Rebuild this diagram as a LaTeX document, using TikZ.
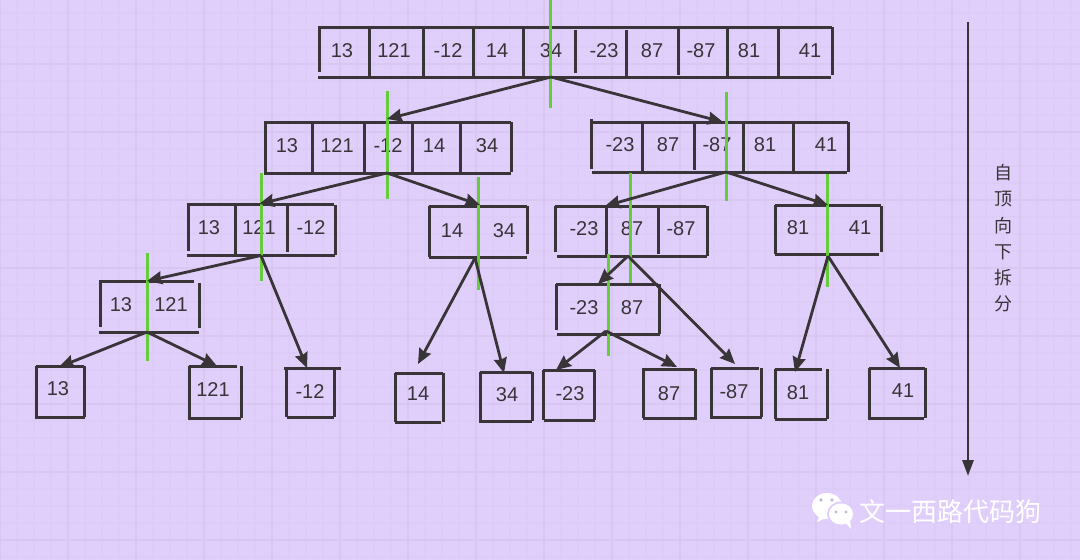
\documentclass[tikz,border=0pt]{standalone}
\usepackage{fontspec}
\setmainfont{Liberation Sans}
\newfontfamily\cjkf{Noto Sans CJK SC}
\usetikzlibrary{arrows.meta}
\definecolor{bgc}{HTML}{E1CFFB}
\definecolor{gridminor}{HTML}{DECCF8}
\definecolor{gridmajor}{HTML}{D9C7F2}
\definecolor{ink}{HTML}{383438}
\definecolor{cut}{HTML}{66CC3C}
\tikzset{
  rail/.style={draw=ink,line width=3pt},
  link/.style={draw=ink,line width=2.8pt,-{Stealth[length=15pt,width=13pt,inset=1.5pt]}},
  cutline/.style={draw=cut,line width=3pt},
  num/.style={text=ink,font=\fontsize{20}{20}\selectfont,inner sep=0pt},
  han/.style={text=ink,font=\cjkf\fontsize{18}{18}\selectfont,inner sep=0pt},
  wmark/.style={text=white,font=\cjkf\fontsize{26}{26}\selectfont,inner sep=0pt}
}
\begin{document}
\begin{tikzpicture}[x=1pt,y=-1pt]
\useasboundingbox (0,0) rectangle (1080,560);
\fill[bgc] (0,0) rectangle (1080,560);
\foreach \gx in {0,17,...,1080} \draw[gridminor,line width=1.4pt] (\gx,0) -- (\gx,560);
\foreach \gy in {13,30,...,560} \draw[gridminor,line width=1.4pt] (0,\gy) -- (1080,\gy);
\foreach \gx in {0,68,...,1080} \draw[gridmajor,line width=1.6pt] (\gx,0) -- (\gx,560);
\foreach \gy in {64,132,...,560} \draw[gridmajor,line width=1.6pt] (0,\gy) -- (1080,\gy);

% level 0
\draw[rail] (318,27) -- (832,27);
\draw[rail] (318,77) -- (831,77);
\foreach \vx/\va/\vb in {319/27/72,369/28/77,423/28/77,473/28/77,523/28/77,575/30/73,626/30/77,678/28/75,727/28/77,778/28/77,832/27/75}
  \draw[rail] (\vx,\va) -- (\vx,\vb);
\foreach \nm/\tx/\lb in {a0/342/13,a1/394/121,a2/448/-12,a3/497/14,a4/551/34,a5/604/-23,a6/652/87,a7/701/-87,a8/749/81,a9/810/41}
  \node[num] (\nm) at (\tx,51) {\lb};

% level 1
\draw[rail] (264,122) -- (511,122);
\draw[rail] (264,173) -- (511,173);
\foreach \vx/\va/\vb in {265/122/172,312/122/175,364/122/173,412/122/173,460/122/173,511/122/172}
  \draw[rail] (\vx,\va) -- (\vx,\vb);
\foreach \nm/\tx/\lb in {b0/287/13,b1/337/121,b2/388/-12,b3/434/14,b4/487/34}
  \node[num] (\nm) at (\tx,146) {\lb};
\draw[rail] (591,122) -- (848,122);
\draw[rail] (592,172) -- (847,172);
\foreach \vx/\va/\vb in {591/119/169,642/121/172,694/122/170,743/122/172,793/122/172,848/122/172}
  \draw[rail] (\vx,\va) -- (\vx,\vb);
\foreach \nm/\tx/\lb in {c0/620/-23,c1/668/87,c2/717/-87,c3/765/81,c4/826/41}
  \node[num] (\nm) at (\tx,145) {\lb};

% level 2
\draw[rail] (187,204) -- (334,204);
\draw[rail] (187,255) -- (335,255);
\foreach \vx/\va/\vb in {188/204/251,235/204/255,287/204/252,335/205/255}
  \draw[rail] (\vx,\va) -- (\vx,\vb);
\foreach \nm/\tx/\lb in {d0/209/13,d1/259/121,d2/311/-12}
  \node[num] (\nm) at (\tx,228) {\lb};
\draw[rail] (429,206) -- (527,206);
\draw[rail] (429,257) -- (527,257);
\foreach \vx/\va/\vb in {429/206/257,527/206/254}
  \draw[rail] (\vx,\va) -- (\vx,\vb);
\foreach \nm/\tx/\lb in {e0/452/14,e1/504/231}
  \node[num] (\nm) at (\tx,231) {\ifnum\lb=231 34\else\lb\fi};
\draw[rail] (555,206) -- (706,206);
\draw[rail] (557,256) -- (707,256);
\foreach \vx/\va/\vb in {555/206/252,606/206/256,658/206/254,707/206/256}
  \draw[rail] (\vx,\va) -- (\vx,\vb);
\foreach \nm/\tx/\lb in {f0/584/-23,f1/632/87,f2/681/-87}
  \node[num] (\nm) at (\tx,229) {\lb};
\draw[rail] (775,205) -- (881,205);
\draw[rail] (775,254) -- (879,254);
\foreach \vx/\va/\vb in {775/205/254,881/206/252}
  \draw[rail] (\vx,\va) -- (\vx,\vb);
\foreach \nm/\tx/\lb in {g0/798/81,g1/860/41}
  \node[num] (\nm) at (\tx,228) {\lb};

% level 3
\draw[rail] (99,281) -- (194,281);
\draw[rail] (99,332) -- (199,332);
\foreach \vx/\va/\vb in {100/281/327,199/283/328}
  \draw[rail] (\vx,\va) -- (\vx,\vb);
\foreach \nm/\tx/\lb in {h0/121/13,h1/171/121}
  \node[num] (\nm) at (\tx,305) {\lb};
\draw[rail] (556,284) -- (658,284);
\draw[rail] (557,334) -- (660,334);
\foreach \vx/\va/\vb in {556/284/330,659/284/334}
  \draw[rail] (\vx,\va) -- (\vx,\vb);
\foreach \nm/\tx/\lb in {i0/584/-23,i1/632/87}
  \node[num] (\nm) at (\tx,308) {\lb};

% level 4: left x / right x / top / bottom of each side, as drawn
\foreach \lx/\rx/\ty/\by/\nm/\tx/\tyy/\lb/\tl/\bl/\tr/\br in {
  36/84/366/417/j0/58/389/13/36/35/84/85,
  189/241/366/418/j1/213/390/121/189/188/237/241,
  286/334/368/417/j2/310/392/-12/284/287/341/334,
  395/443/373/422/j3/418/394/14/395/395/443/441,
  480/532/372/421/j4/507/395/34/480/479/532/532,
  543/594/370/420/j5/570/394/-23/543/544/595/595,
  643/695/369/418/j6/669/394/87/642/643/695/697,
  711/761/368/417/j7/734/392/-87/711/710/759/762,
  775/827/369/419/j8/798/393/81/775/775/822/827,
  869/925/368/418/j9/903/391/41/869/868/925/924}{
  \draw[rail] (\tl,\ty) -- (\tr,\ty);
  \draw[rail] (\bl,\by) -- (\br,\by);
  \draw[rail] (\lx,\ty) -- (\lx,\by);
  \draw[rail] (\rx,\ty) -- (\rx,\by);
  \node[num] (\nm) at (\tx,\tyy) {\lb};
}

% connector anchors
\coordinate (p0) at (551,77);
\coordinate (p1) at (387,173);
\coordinate (p2) at (726,172);
\coordinate (p3) at (261,255.5);
\coordinate (p4) at (475,258);
\coordinate (p5) at (628,256);
\coordinate (p6) at (828,256);
\coordinate (p7) at (147,332);
\coordinate (p8) at (606,331);
\coordinate (q1) at (387,119);
\coordinate (q2) at (723,122);
\coordinate (q3) at (259,204);
\coordinate (q4) at (480,205);
\coordinate (q5) at (605,206);
\coordinate (q6) at (828,205);
\coordinate (q7) at (147,281);
\coordinate (q8) at (598,284);
\coordinate (r0) at (59,367);
\coordinate (r1) at (217,366);
\coordinate (r2) at (307,368);
\coordinate (r3) at (418,364);
\coordinate (r4) at (504,373);
\coordinate (r5) at (556,370);
\coordinate (r6) at (677,367);
\coordinate (r7) at (735,364);
\coordinate (r8) at (795,372);
\coordinate (r9) at (900,368);

% cuts
\foreach \cx/\ca/\cb in {550/0/108,387/91/199,726/92/201,261/173/281,478.5/177/290,630.5/173/283,827.5/174/287,147/253/361,608/254/356}
  \draw[cutline] (\cx,\ca) -- (\cx,\cb);

% connectors
\foreach \pa/\pb in {p0/q1,p0/q2,p1/q3,p1/q4,p2/q5,p2/q6,p3/q7,p3/r2,p7/r0,p7/r1,p4/r3,p4/r4,p5/q8,p5/r7,p8/r5,p8/r6,p6/r8,p6/r9}
  \draw[link] (\pa) -- (\pb);

% direction arrow
\coordinate (dirs) at (968,22);
\coordinate (dire) at (968,476);
\draw[draw=ink,line width=2.8pt,-{Stealth[length=16pt,width=11pt,inset=0pt]}] (dirs) -- (dire);
\foreach \nm/\hy/\hc in {k0/173/自,k1/199/顶,k2/226/向,k3/252/下,k4/278/拆,k5/304/分}
  \node[han] (\nm) at (1003,\hy) {\hc};

% watermark
\node[wmark,anchor=west] (wm) at (859,512) {文一西路代码狗};
\fill[white] (827,506) ellipse (15pt and 13pt);
\fill[white] (820,515) -- (817,522) -- (828,517) -- cycle;
\fill[bgc] (841,514) ellipse (14pt and 12.5pt);
\fill[white] (841,514) ellipse (12pt and 10.5pt);
\fill[white] (845,522) -- (851,529) -- (850,519) -- cycle;
\fill[bgc!70!gray] (821,500) circle (1.8pt) (832,500) circle (1.8pt);
\fill[bgc!70!gray] (836,512) circle (1.6pt) (846,512) circle (1.6pt);
\end{tikzpicture}
\end{document}
